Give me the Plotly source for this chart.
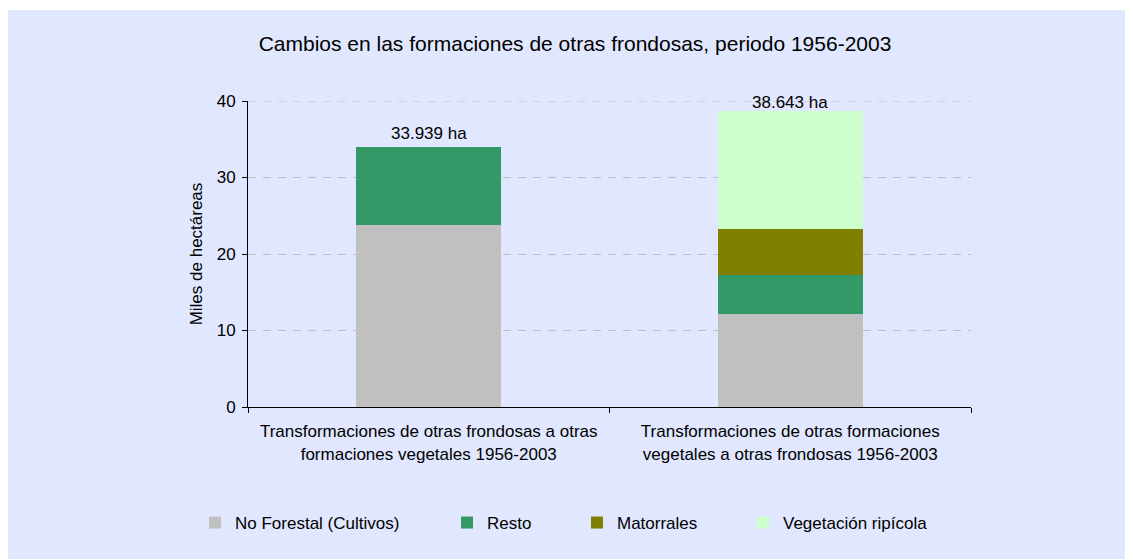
import plotly.graph_objects as go

categories = [
    "Transformaciones de otras frondosas a otras<br>formaciones vegetales 1956-2003",
    "Transformaciones de otras formaciones<br>vegetales a otras frondosas 1956-2003",
]
series_names = ["No Forestal (Cultivos)", "Resto", "Matorrales", "Vegetación ripícola"]
no_forestal = [23.8, 12.2]
resto = [10.139, 5.1]
matorrales = [0.0, 6.0]
vegetacion_ripicola = [0.0, 15.343]
y_ticks = [0, 10, 20, 30, 40]

colors = ["#C0C0C0", "#339966", "#808000", "#CCFFCC"]
series_values = [no_forestal, resto, matorrales, vegetacion_ripicola]

FONT = "Arial, Liberation Sans, sans-serif"
# the page body has an 8px margin, so the figure is drawn from (8, 8)
OFF = 8
PAGE_W, PAGE_H = 1133, 560
W, H = PAGE_W - OFF, PAGE_H - OFF
AX_L, AX_R, AX_T, AX_B = 248, 971, 101, 407   # plot area in page pixels
ML, MR, MT, MB = AX_L - OFF, PAGE_W - AX_R, AX_T - OFF, PAGE_H - AX_B
PW = AX_R - AX_L
PH = AX_B - AX_T
GRID_COLOR = "#C0C0C0"
GRID_DASH = "8px,7px"

def px_x(p):
    return (p - AX_L) / PW

def px_y(p):
    return (AX_B - p) / PH

fig = go.Figure()
legend_ids = ["legend", "legend2", "legend3", "legend4"]
for name, vals, col, lg in zip(series_names, series_values, colors, legend_ids):
    fig.add_trace(go.Bar(
        x=categories, y=vals, name=name, marker=dict(color=col, line=dict(width=0)),
        legend=lg,
    ))

totals = [sum(v[i] for v in series_values) for i in range(len(categories))]
total_labels = [f"{round(t * 1000):,}".replace(",", ".") + " ha" for t in totals]
label_shift = [2, -3]
for c, t, lab, ys in zip(categories, totals, total_labels, label_shift):
    fig.add_annotation(x=c, y=t, text=lab, showarrow=False, yanchor="bottom",
                       yshift=ys, font=dict(size=17, color="#000000", family=FONT))

# background panel
fig.add_shape(type="rect", xref="paper", yref="paper",
              x0=px_x(0), x1=px_x(1140), y0=px_y(559), y1=px_y(10),
              fillcolor="#E1E7FE", line=dict(width=0), layer="below")
# top gridline (plotly omits the gridline lying on the plot edge)
fig.add_shape(type="line", xref="paper", yref="y", x0=0, x1=1,
              y0=y_ticks[-1], y1=y_ticks[-1],
              line=dict(color=GRID_COLOR, width=1, dash=GRID_DASH), layer="below")

legend_text_x = [230, 482, 612, 778]
legend_layout = {}
for lg, tx in zip(legend_ids, legend_text_x):
    legend_layout[lg] = dict(
        orientation="h", x=px_x(tx - 35), xanchor="left", y=px_y(523), yanchor="middle",
        bgcolor="rgba(0,0,0,0)", borderwidth=0,
        font=dict(size=17, color="#000000", family=FONT),
    )

fig.update_layout(
    width=W, height=H,
    margin=dict(l=ML, r=MR, t=MT, b=MB, autoexpand=False),
    paper_bgcolor="#FFFFFF",
    plot_bgcolor="rgba(0,0,0,0)",
    barmode="stack", bargap=0.6,
    font=dict(family=FONT, size=17, color="#000000"),
    title=dict(text="Cambios en las formaciones de otras frondosas, periodo 1956-2003",
               x=px_x(575), xanchor="center", xref="paper",
               y=1 - (44 - OFF) / H, yref="container", yanchor="middle",
               font=dict(size=21, color="#000000", family=FONT)),
    showlegend=True,
    **legend_layout,
)

fig.update_xaxes(
    showline=True, linecolor="#000000", linewidth=1,
    ticks="outside", tickson="boundaries", ticklen=5, tickcolor="#000000",
    showgrid=False, tickfont=dict(size=17, family=FONT), automargin=False,
    ticklabelstandoff=9,
)
fig.update_yaxes(
    range=[0, 40], tickvals=y_ticks, showline=True, linecolor="#000000", linewidth=1,
    ticks="outside", ticklen=5, tickcolor="#000000",
    showgrid=True, gridcolor=GRID_COLOR, griddash=GRID_DASH, gridwidth=1,
    zeroline=False, tickfont=dict(size=17, family=FONT), automargin=False,
    ticklabelstandoff=3,
    title=dict(text="Miles de hectáreas", font=dict(size=17, family=FONT), standoff=9),
)

fig.write_html("out.html")
